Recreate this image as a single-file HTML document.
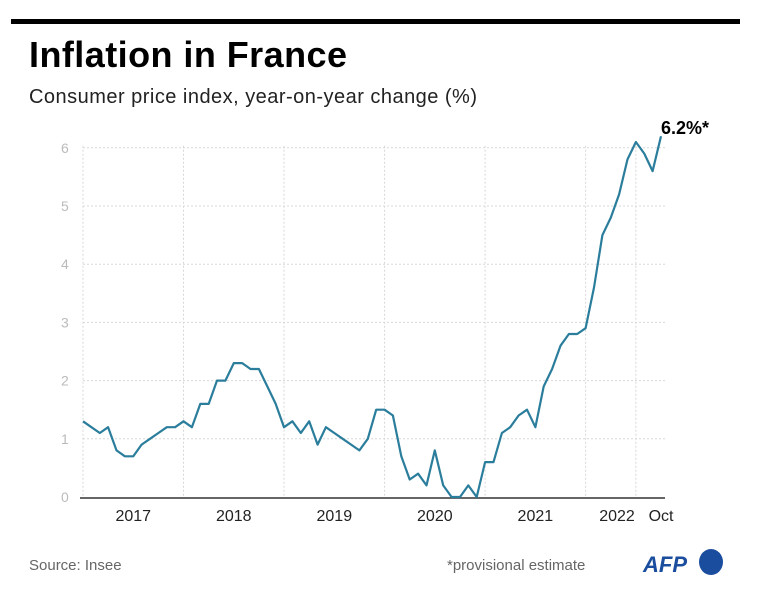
<!DOCTYPE html>
<html><head><meta charset="utf-8"><style>
body{margin:0;background:#fff;width:768px;height:588px;overflow:hidden;font-family:"Liberation Sans",sans-serif}
</style></head><body>
<svg width="768" height="588">
<rect x="11" y="19" width="729" height="5" fill="#000"/>
<text x="29" y="67" font-size="36" font-weight="bold" fill="#000" textLength="318">Inflation in France</text>
<text x="29" y="103" font-size="20" fill="#222" textLength="448">Consumer price index, year-on-year change (%)</text>
<g id="grid"></g>
<g id="yticks"></g>
<g id="xticks"></g>
<path id="line" fill="none" stroke="#2b7d9c" stroke-width="2.2" stroke-linejoin="round"/>
<text id="lastlabel" font-size="18" font-weight="bold" fill="#000"></text>
<text x="29" y="570" font-size="15" fill="#666">Source: Insee</text>
<text x="447" y="570" font-size="15" fill="#666">*provisional estimate</text>
<text x="643" y="572" font-size="22" font-weight="bold" font-style="italic" fill="#1b4d9e">AFP</text>
<ellipse cx="711" cy="562" rx="12" ry="13" fill="#1b4d9e"/>
</svg>
<script>
const values=[1.3,1.2,1.1,1.2,0.8,0.7,0.7,0.9,1.0,1.1,1.2,1.2,
1.3,1.2,1.6,1.6,2.0,2.0,2.3,2.3,2.2,2.2,1.9,1.6,
1.2,1.3,1.1,1.3,0.9,1.2,1.1,1.0,0.9,0.8,1.0,1.5,
1.5,1.4,0.7,0.3,0.4,0.2,0.8,0.2,0.0,0.0,0.2,0.0,
0.6,0.6,1.1,1.2,1.4,1.5,1.2,1.9,2.2,2.6,2.8,2.8,
2.9,3.6,4.5,4.8,5.2,5.8,6.1,5.9,5.6,6.2];
const yTicks=[0,1,2,3,4,5,6];
const yearLabels=["2017","2018","2019","2020","2021","2022"];
const lastLabel="6.2%*";
const NS="http://www.w3.org/2000/svg";
const x0=83,step=8.377,yBase=497,unit=58.2,xEnd=665;
const xs=i=>x0+i*step, ys=v=>yBase-v*unit;
function mk(t,a,p){const e=document.createElementNS(NS,t);for(const k in a)e.setAttribute(k,a[k]);p.appendChild(e);return e;}
const grid=document.getElementById('grid'),yt=document.getElementById('yticks'),xt=document.getElementById('xticks');
yTicks.forEach(v=>{
 if(v>0){const l=mk('line',{x1:x0,x2:xEnd,y1:ys(v),y2:ys(v),stroke:'#d8d8d8','stroke-dasharray':'2,2'},grid);
 
 }
 const t=mk('text',{x:61,y:ys(v)+5,'font-size':14,fill:'#bbb'},yt);t.textContent=v;
 
 
});
const vg=[0,12,24,36,48,60,66];
vg.forEach(m=>{const l=mk('line',{x1:xs(m),x2:xs(m),y1:ys(6)-2,y2:yBase,stroke:'#d8d8d8','stroke-dasharray':'2,2'},grid);
 
 });
const ax=mk('line',{x1:x0-3,x2:xEnd,y1:yBase+1,y2:yBase+1,stroke:'#333','stroke-width':1.5},xt);


yearLabels.forEach((y,i)=>{const cx=i<5?xs(i*12+6):617;
 const t=mk('text',{x:cx,y:521,'font-size':16,fill:'#222','text-anchor':'middle'},xt);t.textContent=y;
 
 });
const oct=mk('text',{x:xs(values.length-1),y:521,'font-size':16,fill:'#222','text-anchor':'middle'},xt);oct.textContent="Oct";


document.getElementById('line').setAttribute('d',values.map((v,i)=>(i?'L':'M')+xs(i).toFixed(1)+','+ys(v).toFixed(1)).join(''));
const ll=document.getElementById('lastlabel');ll.textContent=lastLabel;
ll.setAttribute('x',xs(values.length-1));ll.setAttribute('y',ys(values[values.length-1])-2);
</script>
</body></html>
